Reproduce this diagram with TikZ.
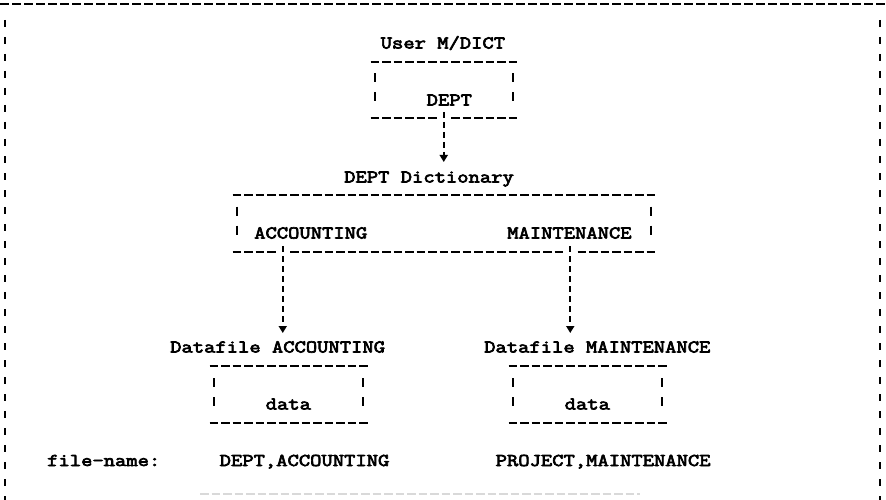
\documentclass[tikz,border=0pt]{standalone}
\usepackage{fontspec}
\newfontfamily\tw{Latin Modern Mono}[FakeStretch=1.22, FakeBold=3.8]
\usetikzlibrary{arrows.meta}
\begin{document}
\begin{tikzpicture}[x=1pt,y=-1pt,
  txt/.style={font={\tw\fontsize{18}{20}\selectfont}, inner sep=0pt, anchor=base west},
  hl/.style={line width=2pt, dash pattern=on 8.5pt off 3pt},
  vl/.style={line width=2pt, dash pattern=on 9pt off 10pt},
  fr/.style={line width=1.8pt, dash pattern=on 9pt off 3pt},
  frv/.style={line width=1.8pt, dash pattern=on 7pt off 10pt},
  conn/.style={line width=2pt, dash pattern=on 6pt off 4pt, -{Triangle[width=8pt,length=7pt]}},
  faint/.style={line width=1.4pt, gray!30, dash pattern=on 8.5pt off 3pt}]
\useasboundingbox (0,0) rectangle (886,500);
% outer frame
\draw[fr] (0,4) -- (886,4);
\draw[frv] (5,20) -- (5,500);
\draw[frv] (880,20) -- (880,500);
\draw[faint] (200,494) -- (640,494);

% User M/DICT box
\node[txt] (user) at (380.5,48.5) {User M/DICT};
\draw[hl] (370.5,62) -- (517,62);
\draw[vl] (374.75,73.5) -- (374.75,103);
\draw[vl] (512.75,73.5) -- (512.75,103);
\node[txt] (dept) at (426.5,105.5) {DEPT};
\draw[hl] (370.5,118) -- (436.5,118);
\draw[hl] (451,118) -- (517,118);
\coordinate (j1) at (443.75,112);
\coordinate (t1) at (443.75,162);

% DEPT Dictionary box
\node[txt] (dict) at (344,182.5) {DEPT Dictionary};
\draw[hl] (232.5,195) -- (655,195);
\draw[vl] (236.75,206.5) -- (236.75,236);
\draw[vl] (650.75,206.5) -- (650.75,236);
\node[txt] (acc) at (254,238.5) {ACCOUNTING};
\node[txt] (mnt) at (507,238.5) {MAINTENANCE};
\draw[hl] (232.5,252) -- (275.5,252);
\draw[hl] (290,252) -- (563,252);
\draw[hl] (577.5,252) -- (655,252);
\coordinate (j2) at (282.75,246);
\coordinate (j3) at (570.25,246);
\coordinate (t2) at (282.75,333);
\coordinate (t3) at (570.25,333);

% Datafile ACCOUNTING
\node[txt] (dfa) at (170,352.5) {Datafile ACCOUNTING};
\draw[hl] (209.5,366) -- (367.5,366);
\draw[vl] (213.75,378) -- (213.75,408);
\draw[vl] (363.25,378) -- (363.25,408);
\node[txt] (da1) at (265.5,409.5) {data};
\draw[hl] (209.5,423) -- (367.5,423);

% Datafile MAINTENANCE
\node[txt] (dfm) at (484,352.5) {Datafile MAINTENANCE};
\draw[hl] (508.5,366) -- (666.5,366);
\draw[vl] (512.75,378) -- (512.75,408);
\draw[vl] (662.25,378) -- (662.25,408);
\node[txt] (da2) at (564.5,409.5) {data};
\draw[hl] (508.5,423) -- (666.5,423);

% file names
\node[txt] (fn) at (47,466) {file-name:};
\node[txt] (fna) at (219.5,466) {DEPT,ACCOUNTING};
\node[txt] (fnm) at (495.5,466) {PROJECT,MAINTENANCE};

% connectors
\draw[conn] (j1) -- (t1);
\draw[conn] (j2) -- (t2);
\draw[conn] (j3) -- (t3);
\end{tikzpicture}
\end{document}
